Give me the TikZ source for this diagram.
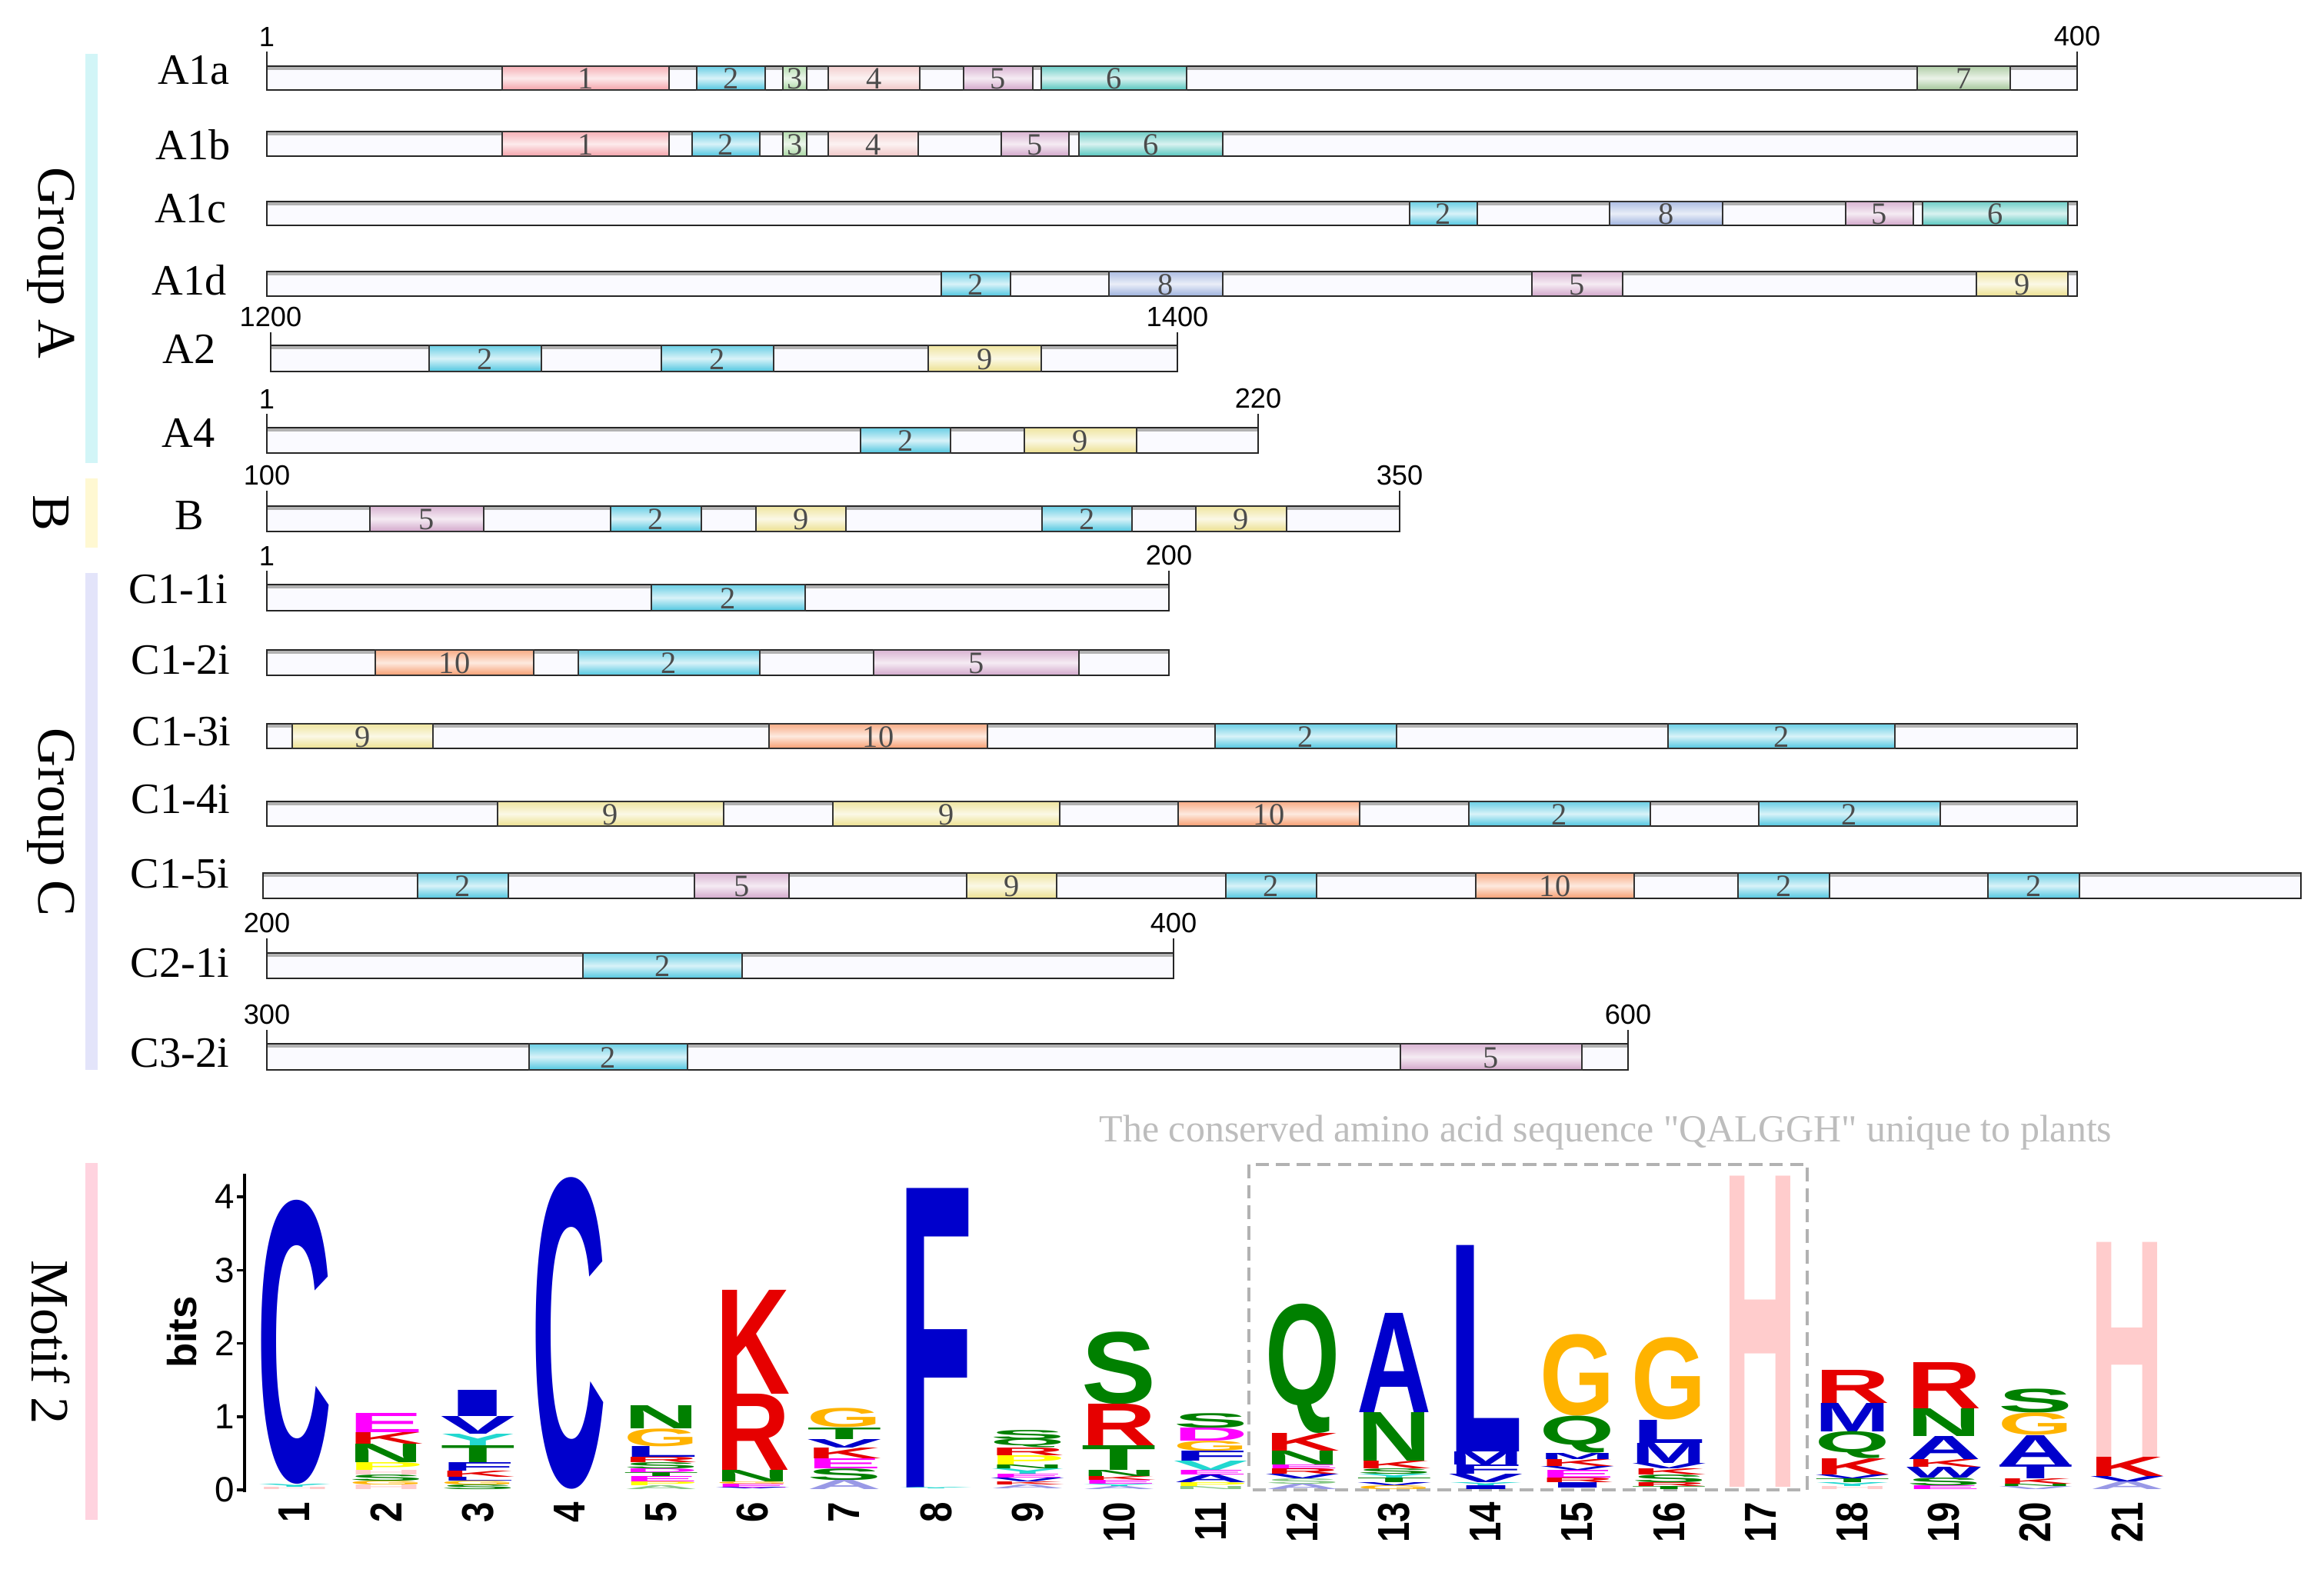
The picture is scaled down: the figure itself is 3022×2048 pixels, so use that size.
\documentclass[tikz,border=0pt]{standalone}
\usepackage{fontspec}
\setmainfont{Liberation Serif}
\setsansfont{Liberation Sans}
\newfontfamily\annotfont[Ligatures=TeXOff]{Liberation Serif}
\usepackage{graphicx}
\definecolor{m1}{HTML}{F4A2A9}
\definecolor{m2}{HTML}{4FC6E0}
\definecolor{m3}{HTML}{A9D8A2}
\definecolor{m4}{HTML}{F0C6C6}
\definecolor{m5}{HTML}{D2A6CA}
\definecolor{m6}{HTML}{55C6BE}
\definecolor{m7}{HTML}{A3C698}
\definecolor{m8}{HTML}{9DB1DE}
\definecolor{m9}{HTML}{ECE08E}
\definecolor{m10}{HTML}{F79D6F}
\definecolor{gA}{HTML}{D2F5F7}
\definecolor{gB}{HTML}{FFF8D2}
\definecolor{gC}{HTML}{E3E4FA}
\definecolor{gM}{HTML}{FFD3DF}
\definecolor{lb}{HTML}{0000CC}
\definecolor{lr}{HTML}{E60000}
\definecolor{lg}{HTML}{008000}
\definecolor{lo}{HTML}{FFB300}
\definecolor{lm}{HTML}{FF00FF}
\definecolor{lc}{HTML}{22D8D0}
\definecolor{ly}{HTML}{FFFF00}
\definecolor{lp}{HTML}{FFCCCC}
\definecolor{lbl}{HTML}{9999E6}
\definecolor{lgl}{HTML}{88C888}
\definecolor{annot}{HTML}{BDBDBD}

\tikzset{
  seqbar/.style={draw=black!85, line width=0.8pt, fill=white!98!blue},
  motif/.style={draw=black!80, line width=0.6pt, top color=#1!85, bottom color=#1, middle color=#1!22},
  mnum/.style={font=\fontsize{11.5}{12}\selectfont, text=black!70, inner sep=0pt},
  rowlbl/.style={font=\fontsize{16}{18}\selectfont, inner sep=0pt},
  numlbl/.style={font=\sffamily\fontsize{10.3}{12}\selectfont, inner sep=0pt},
  tickln/.style={draw=black!85, line width=0.6pt},
  grplbl/.style={font=\fontsize{20}{24}\selectfont, rotate=-90, inner sep=0pt},
  axlbl/.style={font=\sffamily\fontsize{13}{15}\selectfont, inner sep=0pt, anchor=east},
  poslbl/.style={rotate=90, anchor=east, inner sep=0pt},
}

\newcommand\seqrow[5]{%
  \draw[seqbar] (#1,#3) rectangle (#2,#4);
  \draw[gray!60, line width=1.1pt] ({#1+1},{#3+2.8}) -- ({#2-1},{#3+2.8});
  \foreach \xa/\xb/\mm in {#5}{
    \draw[motif=m\mm] (\xa,#3) rectangle (\xb,#4);
    \node[mnum] at ({(\xa+\xb)/2},{(#3+#4)/2+1}) {\mm};
  }}
\newcommand\scaleends[6]{%
  \draw[tickln] (#1,#3) -- (#1,#4);
  \draw[tickln] (#2,#3) -- (#2,#4);
  \node[numlbl, anchor=south] at (#1,{#3-6}) {#5};
  \node[numlbl, anchor=south] at (#2,{#3-6}) {#6};}
\newcommand\LL[5]{%
  \pgfmathsetmacro\cx{383+119.15*(#1-1)}%
  \pgfmathsetlengthmacro\hh{(#3-#2)*0.28453pt}%
  \node[anchor=south, inner sep=0pt, text=#5] at (\cx,#3) {\resizebox*{0.97cm}{\hh}{\sffamily\bfseries #4}};}

\begin{document}
\begin{tikzpicture}[x=0.01cm,y=-0.01cm]
\fill[white] (0,0) rectangle (3022,2048);
\useasboundingbox (0,0) rectangle (3022,2048);

% group side bars
\fill[gA] (111,70) rectangle (127,602);
\fill[gB] (111,622) rectangle (127,712);
\fill[gC] (111,745) rectangle (127,1391);
\fill[gM] (111,1512) rectangle (127,1976);
\node[grplbl] (gAl) at (66,342) {Group A};
\node[grplbl] (gBl) at (66,667) {B};
\node[grplbl] (gCl) at (66,1069) {Group C};
\node[grplbl] (gMl) at (66,1745) {Motif 2};

% rows
\seqrow{347}{2701}{86}{117}{653/870/1, 906/995/2, 1018/1049/3, 1077/1196/4, 1253/1343/5, 1354/1543/6, 2493/2614/7}
\scaleends{347}{2701}{67}{117}{1}{400}
\seqrow{347}{2701}{171}{203}{653/870/1, 900/988/2, 1018/1049/3, 1077/1194/4, 1302/1390/5, 1403/1590/6}
\seqrow{347}{2701}{262}{293}{1833/1921/2, 2093/2240/8, 2400/2488/5, 2500/2689/6}
\seqrow{347}{2701}{353}{385}{1224/1314/2, 1442/1590/8, 1992/2110/5, 2570/2689/9}
\seqrow{352}{1531}{449}{483}{558/704/2, 860/1006/2, 1207/1354/9}
\scaleends{352}{1531}{432}{483}{1200}{1400}
\seqrow{347}{1636}{556}{589}{1119/1236/2, 1332/1478/9}
\scaleends{347}{1636}{538}{589}{1}{220}
\seqrow{347}{1820}{658}{691}{481/629/5, 794/912/2, 983/1100/9, 1355/1472/2, 1555/1673/9}
\scaleends{347}{1820}{638}{691}{100}{350}
\seqrow{347}{1520}{760}{794}{847/1047/2}
\scaleends{347}{1520}{742}{794}{1}{200}
\seqrow{347}{1520}{845}{878}{488/694/10, 752/988/2, 1136/1403/5}
\seqrow{347}{2701}{941}{973}{380/563/9, 1000/1284/10, 1580/1816/2, 2169/2464/2}
\seqrow{347}{2701}{1042}{1074}{647/941/9, 1083/1378/9, 1532/1768/10, 1910/2146/2, 2287/2523/2}
\seqrow{342}{2992}{1135}{1168}{543/661/2, 903/1026/5, 1257/1374/9, 1594/1712/2, 1919/2125/10, 2260/2379/2, 2585/2704/2}
\seqrow{347}{1526}{1239}{1272}{758/965/2}
\scaleends{347}{1526}{1220}{1272}{200}{400}
\seqrow{347}{2117}{1357}{1391}{688/894/2, 1821/2057/5}
\scaleends{347}{2117}{1339}{1391}{300}{600}

% row labels
\node[rowlbl] (lA1a) at (252,91) {A1a};
\node[rowlbl] (lA1b) at (251,188) {A1b};
\node[rowlbl] (lA1c) at (248,271) {A1c};
\node[rowlbl] (lA1d) at (246,364) {A1d};
\node[rowlbl] (lA2) at (246,454) {A2};
\node[rowlbl] (lA4) at (245,563) {A4};
\node[rowlbl] (lB) at (246,670) {B};
\node[rowlbl] (lC11) at (232,766) {C1-1i};
\node[rowlbl] (lC12) at (235,858) {C1-2i};
\node[rowlbl] (lC13) at (236,951) {C1-3i};
\node[rowlbl] (lC14) at (235,1039) {C1-4i};
\node[rowlbl] (lC15) at (234,1136) {C1-5i};
\node[rowlbl] (lC21) at (234,1252) {C2-1i};
\node[rowlbl] (lC32) at (234,1369) {C3-2i};

% annotation and dashed box
\node[font=\annotfont\fontsize{14.2}{16}\selectfont, text=annot, inner sep=0pt] (note) at (2088,1472) {The conserved amino acid sequence "QALGGH" unique to plants};
\draw[gray!60, line width=0.9pt, dash pattern=on 5pt off 2.6pt] (1624,1514) rectangle (2350,1937);

% logo axis
\draw[black, line width=1pt] (318,1526) -- (318,1940);
\foreach \v in {0,...,4}{
  \draw[black, line width=1pt] (308,{1937-95.25*\v}) -- (318,{1937-95.25*\v});
  \node[axlbl] (ax\v) at (306,{1937-95.25*\v}) {\v};
}
\node[rotate=90, font=\sffamily\bfseries\fontsize{15}{18}\selectfont, inner sep=0pt] (bits) at (237,1732) {bits};

% logo letters
\foreach \colno/\ytop/\ybot/\ltr/\lcol in {
1/1561/1930/C/lb, 1/1930/1934/Y/lc, 1/1934/1937/H/lp,
2/1838/1863/E/lm, 2/1863/1878/K/lr, 2/1878/1902/N/lg, 2/1902/1912/P/ly, 2/1912/1918/H/lp, 2/1918/1926/S/lg, 2/1926/1931/G/lo, 2/1931/1937/H/lp,
3/1808/1842/I/lb, 3/1842/1865/V/lb, 3/1865/1880/Y/lc, 3/1880/1902/T/lg, 3/1902/1913/F/lb, 3/1913/1921/K/lr, 3/1921/1926/L/lb, 3/1926/1931/G/lo, 3/1931/1937/S/lg,
4/1532/1937/C/lb,
5/1828/1858/N/lg, 5/1858/1881/G/lo, 5/1881/1895/L/lb, 5/1895/1902/R/lr, 5/1902/1910/S/lg, 5/1910/1915/D/lm, 5/1915/1920/T/lg, 5/1920/1927/E/lm, 5/1927/1932/P/ly, 5/1932/1937/A/lgl,
6/1678/1813/K/lr, 6/1813/1912/R/lr, 6/1912/1927/N/lg, 6/1927/1930/G/lo, 6/1930/1935/E/lm, 6/1935/1937/V/lb,
7/1832/1857/G/lo, 7/1857/1872/T/lg, 7/1872/1883/V/lb, 7/1883/1897/K/lr, 7/1897/1910/E/lm, 7/1910/1925/S/lg, 7/1925/1937/A/lbl,
8/1546/1935/F/lb, 8/1935/1937/Y/lc,
9/1860/1872/S/lg, 9/1872/1883/Q/lg, 9/1883/1893/R/lr, 9/1893/1905/P/ly, 9/1905/1910/N/lg, 9/1910/1917/Y/lc, 9/1917/1922/E/lm, 9/1922/1927/V/lb, 9/1927/1931/K/lr, 9/1931/1936/A/lbl,
10/1732/1826/S/lg, 10/1826/1880/R/lr, 10/1880/1912/T/lg, 10/1912/1920/N/lg, 10/1920/1925/K/lr, 10/1925/1930/E/lm, 10/1930/1933/Y/lc, 10/1933/1937/A/lbl,
11/1838/1857/S/lg, 11/1857/1874/D/lm, 11/1874/1887/G/lo, 11/1887/1900/F/lb, 11/1900/1912/V/lc, 11/1912/1918/E/lm, 11/1918/1928/A/lb, 11/1928/1933/P/ly, 11/1933/1937/N/lgl,
12/1696/1864/Q/lg, 12/1864/1887/K/lr, 12/1887/1905/N/lg, 12/1905/1910/E/lm, 12/1910/1917/R/lr, 12/1917/1923/V/lb, 12/1923/1930/S/lgl, 12/1930/1937/A/lbl,
13/1708/1837/A/lb, 13/1837/1900/N/lg, 13/1900/1910/K/lr, 13/1910/1917/S/lg, 13/1917/1922/Y/lc, 13/1922/1928/T/lg, 13/1928/1932/V/lb, 13/1932/1937/G/lo,
14/1620/1888/L/lb, 14/1888/1905/M/lb, 14/1905/1917/F/lb, 14/1917/1928/V/lb, 14/1928/1932/Y/lc, 14/1932/1937/I/lb,
15/1736/1842/G/lo, 15/1842/1890/Q/lg, 15/1890/1898/M/lb, 15/1898/1907/K/lr, 15/1907/1912/V/lb, 15/1912/1922/E/lm, 15/1922/1928/R/lr, 15/1928/1935/I/lb,
16/1740/1847/G/lo, 16/1847/1877/L/lb, 16/1877/1903/M/lb, 16/1903/1910/V/lb, 16/1910/1918/K/lr, 16/1918/1928/S/lg, 16/1928/1933/R/lr, 16/1933/1937/T/lg,
17/1530/1934/H/lp,
18/1782/1825/R/lr, 18/1825/1862/M/lb, 18/1862/1897/Q/lg, 18/1897/1918/K/lr, 18/1918/1923/V/lb, 18/1923/1928/T/lg, 18/1928/1933/Y/lc, 18/1933/1937/H/lp,
19/1772/1832/R/lr, 19/1832/1868/N/lg, 19/1868/1898/A/lb, 19/1898/1908/K/lr, 19/1908/1922/W/lb, 19/1922/1932/S/lg, 19/1932/1937/E/lm,
20/1807/1838/S/lg, 20/1838/1867/G/lo, 20/1867/1905/A/lb, 20/1905/1923/T/lb, 20/1923/1930/K/lr, 20/1930/1933/N/lg, 20/1933/1937/V/lbl,
21/1616/1895/H/lp, 21/1895/1920/K/lr, 21/1920/1927/V/lb, 21/1927/1937/A/lbl}{
  \LL{\colno}{\ytop}{\ybot}{\ltr}{\lcol}
}

% position numbers
\foreach \i in {1,...,21}{
  \node[poslbl] (p\i) at ({383+119.15*(\i-1)},1952) {\scalebox{0.82}[1]{\sffamily\bfseries\fontsize{16.5}{18}\selectfont \i}};
}
\end{tikzpicture}
\end{document}
